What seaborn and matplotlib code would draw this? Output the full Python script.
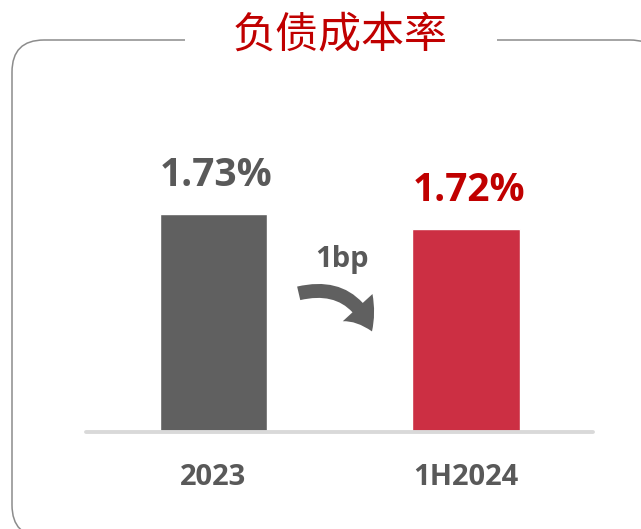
import seaborn as sns
import matplotlib.pyplot as plt
from matplotlib.patches import FancyBboxPatch, Rectangle, FancyArrowPatch

# chart data
periods = ["2023", "1H2024"]
rates = [1.73, 1.72]
bar_colors = ["#606060", "#CC2F43"]
label_colors = ["#595959", "#C00000"]
title = "负债成本率"
change_label = "1bp"

sns.set_style("white")
plt.rcParams['font.family'] = ['Open Sans', 'Noto Sans CJK SC', 'DejaVu Sans']

fig = plt.figure(figsize=(6.41, 5.29), dpi=100)

# background layer in pixel units (y down) for frame, title, arrow
bg = fig.add_axes([0, 0, 1, 1], zorder=-1)
bg.set_xlim(0, 641)
bg.set_ylim(529, 0)
bg.axis('off')
# white face so the renderer does not add an edge where the frame leaves the canvas
bg.add_patch(FancyBboxPatch((12, 40), 650, 497, boxstyle="round,pad=0,rounding_size=32",
                            fc="white", ec="#8C8C8C", lw=1.1))
bg.add_patch(Rectangle((185, 30), 312, 20, fc="white", ec="none"))
bg.text(340.5, 36, title, color="#C00000", fontsize=31, ha="center", va="center",
        family=['Noto Sans CJK SC', 'DejaVu Sans'])

# bar chart
ax = fig.add_axes([86 / 641, 97 / 529, 507 / 641, 372 / 529])
ax.set_facecolor("none")
sns.barplot(x=periods, y=rates, hue=periods, palette=bar_colors, width=0.424,
            saturation=1, legend=False, ax=ax)
ax.set_xlim(-0.505, 1.503)
ax.set_ylim(1.584, 1.833)
sns.despine(ax=ax, left=True, bottom=True)
ax.set_yticks([])
ax.set_xlabel("")
ax.set_ylabel("")
ax.axhline(1.584, color="#D9D9D9", lw=2.8, zorder=5, clip_on=False)
ax.tick_params(axis='x', length=0, pad=22, labelsize=21, labelcolor="#595959")
for t in ax.get_xticklabels():
    t.set_fontweight("bold")

for i, (v, c) in enumerate(zip(rates, label_colors)):
    ax.annotate(f"{v:.2f}%", (i, v), xytext=(2, 20), textcoords="offset points",
                ha="center", va="baseline", fontsize=28, fontweight="bold", color=c)

# change arrow
bg.text(342, 267, change_label, color="#595959", fontsize=21, fontweight="bold",
        ha="center", va="baseline")
bg.add_patch(FancyArrowPatch((296, 294), (373, 334),
                             connectionstyle="arc3,rad=-0.45",
                             arrowstyle="simple,head_width=1.45,head_length=1.0,tail_width=0.5",
                             mutation_scale=20, color="#606060", lw=0))

fig.savefig("out.png", dpi=100)
